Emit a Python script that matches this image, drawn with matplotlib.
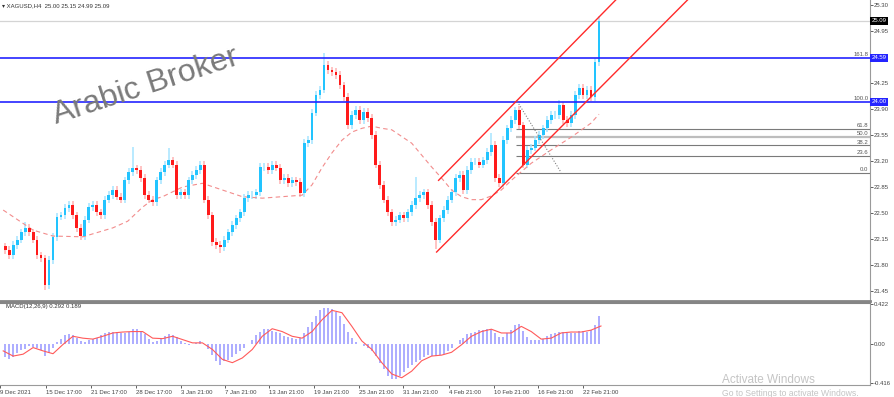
import matplotlib.pyplot as plt
import numpy as np

plt.rcParams['font.family'] = ['Liberation Sans', 'DejaVu Sans']

# XAGUSD H4 closes (one value per ~2 candles)
closes = [
    22.00, 21.93, 22.07, 22.14, 22.24, 22.30, 22.24, 22.14, 21.93, 21.89,
    21.53, 21.87, 22.18, 22.45, 22.47, 22.57, 22.61, 22.47, 22.30, 22.19,
    22.41, 22.58, 22.61, 22.51, 22.47, 22.68, 22.74, 22.81, 22.72, 22.68,
    22.94, 23.05, 23.10, 23.08, 22.97, 22.74, 22.68, 22.65, 22.94, 23.05,
    23.15, 23.21, 23.15, 22.74, 22.78, 22.74, 22.94, 23.01, 23.08, 23.15,
    22.68, 22.47, 22.11, 22.07, 22.04, 22.14, 22.24, 22.34, 22.43, 22.51,
    22.70, 22.74, 22.74, 22.78, 23.12, 23.12, 23.08, 23.15, 23.11, 22.94,
    22.97, 22.90, 22.94, 22.92, 22.77, 23.44, 23.48, 23.85, 24.09, 24.16,
    24.49, 24.42, 24.40, 24.36, 24.22, 24.06, 23.68, 23.82, 23.89, 23.75,
    23.86, 23.78, 23.55, 23.15, 22.88, 22.68, 22.51, 22.38, 22.41, 22.47,
    22.43, 22.51, 22.61, 22.70, 22.74, 22.78, 22.61, 22.38, 22.14, 22.43,
    22.54, 22.68, 22.78, 22.97, 23.01, 22.81, 23.08, 23.19, 23.19, 23.15,
    23.21, 23.32, 23.42, 22.97, 22.90, 23.48, 23.64, 23.75, 23.89, 23.68,
    23.15, 23.35, 23.38, 23.48, 23.55, 23.64, 23.75, 23.82, 23.82, 23.95,
    23.75, 23.71, 23.82, 24.09, 24.18, 24.09, 24.16, 24.06, 24.53, 25.09,
]
first_open = 22.05
# long wicks visible on the chart
spike_highs = {5: 22.38, 32: 23.39, 41: 23.37, 80: 24.65, 103: 22.99,
               122: 23.58, 128: 23.93, 139: 24.02, 149: 25.15}
spike_lows = {10: 21.46, 54: 21.96, 108: 22.02, 124: 22.85, 130: 23.10}

# dashed moving average
ma_bars = [-0.5, 7, 12, 19.5, 27, 30.75, 34.5, 37, 39.5, 44.5, 49.5, 54.5,
           59.5, 64.5, 69.5, 74.5, 77, 79.5, 82, 84.5, 87, 89.5, 92, 94.5,
           97, 102, 107, 109.5, 112, 114.5, 117, 119.5, 122, 124.5, 127,
           132, 137, 142, 147, 149]
ma_vals = [22.54, 22.27, 22.19, 22.18, 22.30, 22.39, 22.58, 22.68, 22.72,
           22.85, 22.90, 22.81, 22.72, 22.70, 22.72, 22.74, 22.88, 23.11,
           23.31, 23.48, 23.59, 23.64, 23.67, 23.64, 23.62, 23.44, 23.12,
           22.97, 22.81, 22.72, 22.68, 22.68, 22.73, 22.81, 22.94, 23.17,
           23.35, 23.52, 23.71, 23.83]

# MACD(12,26,9) histogram, one value per bar
macd_hist = [
    -0.14, -0.16, -0.14, -0.10, -0.07, -0.05, -0.025, -0.03, -0.045, -0.07,
    -0.13, -0.10, -0.04, 0.015, 0.05, 0.09, 0.105, 0.09, 0.06, 0.035,
    0.015, 0.045, 0.055, 0.065, 0.09, 0.11, 0.125, 0.125, 0.125, 0.12,
    0.12, 0.13, 0.155, 0.155, 0.135, 0.10, 0.05, 0.02, 0.025, 0.055,
    0.08, 0.10, 0.09, 0.075, 0.03, 0.005, -0.01, 0.0, 0.01, 0.03,
    0.0, -0.06, -0.12, -0.18, -0.22, -0.18, -0.17, -0.14, -0.11, -0.075,
    -0.04, 0.0, 0.04, 0.09, 0.13, 0.16, 0.16, 0.14, 0.125, 0.11,
    0.085, 0.07, 0.06, 0.055, 0.065, 0.12, 0.175, 0.23, 0.30, 0.36,
    0.385, 0.38, 0.365, 0.335, 0.29, 0.21, 0.13, 0.06, 0.015, -0.005,
    -0.025, -0.04, -0.075, -0.13, -0.20, -0.27, -0.34, -0.375, -0.37, -0.34,
    -0.30, -0.26, -0.22, -0.19, -0.17, -0.14, -0.12, -0.125, -0.13, -0.12,
    -0.11, -0.08, -0.045, -0.005, 0.045, 0.065, 0.10, 0.12, 0.13, 0.145,
    0.15, 0.155, 0.155, 0.12, 0.07, 0.07, 0.11, 0.15, 0.20, 0.21,
    0.14, 0.075, 0.045, 0.045, 0.045, 0.05, 0.08, 0.105, 0.115, 0.125,
    0.13, 0.12, 0.115, 0.12, 0.14, 0.14, 0.13, 0.145, 0.20, 0.292,
]
sig_bars = [-0.5, 2, 4.5, 7, 9.5, 12, 14.5, 17, 19.5, 22, 24.5, 27, 29.5,
            32, 34.5, 37, 39.5, 42, 44.5, 47, 49.5, 52, 54.5, 57, 59.5, 62,
            64.5, 67, 69.5, 72, 74.5, 77, 79.5, 82, 84.5, 87, 89.5, 92,
            94.5, 97, 99.5, 102, 104.5, 107, 109.5, 112, 114.5, 117, 119.5,
            122, 124.5, 127, 129.5, 132, 134.5, 137, 139.5, 142, 144.5, 147,
            149.5]
sig_vals = [-0.075, -0.13, -0.11, -0.04, -0.075, -0.105, -0.007, 0.08, 0.06,
            0.05, 0.08, 0.115, 0.125, 0.13, 0.13, 0.06, 0.055, 0.08, 0.045,
            0.01, 0.01, -0.06, -0.165, -0.2, -0.15, -0.06, 0.08, 0.16, 0.13,
            0.08, 0.06, 0.13, 0.255, 0.355, 0.33, 0.185, 0.03, -0.06, -0.2,
            -0.32, -0.36, -0.29, -0.18, -0.13, -0.12, -0.09, -0.01, 0.08,
            0.13, 0.155, 0.115, 0.115, 0.185, 0.13, 0.05, 0.06, 0.115, 0.125,
            0.125, 0.145, 0.189]

date_labels = ['9 Dec 2021', '15 Dec 17:00', '21 Dec 17:00', '28 Dec 17:00',
               '3 Jan 21:00', '7 Jan 21:00', '13 Jan 21:00', '19 Jan 21:00',
               '25 Jan 21:00', '31 Jan 21:00', '4 Feb 21:00', '10 Feb 21:00',
               '16 Feb 21:00', '22 Feb 21:00']
date_pos = [-1.3, 10.3, 21.6, 32.8, 44.1, 55.2, 66.2, 77.6, 88.8, 99.9,
            111.3, 122.6, 133.8, 145.1]

price_ticks = [25.30, 24.95, 24.25, 23.90, 23.55, 23.20, 22.85, 22.50,
               22.15, 21.80, 21.45]
bid = 25.09
blue_levels = [24.59, 24.00]
fib_names = ['0.0', '23.6', '38.2', '50.0', '61.8']
fib_prices = [23.045, 23.27, 23.41, 23.52, 23.635]
fib_start = 128.25
fib_trend_bars = [128.5, 139.5]
fib_trend_vals = [24.00, 23.045]
chan_up_bars = [108.75, 153.25]
chan_up_vals = [22.94, 25.37]
chan_dn_bars = [108.25, 172.0]
chan_dn_vals = [21.975, 25.41]

fig = plt.figure(figsize=(8.95, 3.97), dpi=100)
ax = fig.add_axes([0, 96 / 397, 870 / 895, 301 / 397])
ax2 = fig.add_axes([0, 12 / 397, 870 / 895, 82 / 397], sharex=ax)

# candles
c = np.array(closes)
o = np.array([first_open] + closes[:-1])
idx = np.arange(len(c))
hi = np.maximum(o, c) + 0.05
lo = np.minimum(o, c) - 0.05
for k, v in spike_highs.items():
    hi[k] = v
for k, v in spike_lows.items():
    lo[k] = v
bull = c >= o
wick_cols = np.where(bull, '#a6e4ff', '#ffb3b3')
body_cols = np.where(bull, '#22c4ff', '#ff1a1a')
ax.vlines(idx, lo, hi, colors=wick_cols, lw=1.1, zorder=2)
ax.bar(idx, c - o, bottom=o, width=0.72, color=body_cols, zorder=3)

ax.plot(ma_bars, ma_vals, color='#f28c8c', lw=0.8, ls=(0, (4, 3)), zorder=2)

# horizontal levels
ax.axhline(bid, color='#d4d4d4', lw=0.9, zorder=1)
for lv in blue_levels:
    ax.axhline(lv, color='#2424ff', lw=1.2, zorder=4)
for name, p in zip(fib_names, fib_prices):
    lw, col = (1.6, '#bdbdbd') if name == '50.0' else (0.8, '#7a7a7a')
    ax.hlines(p, fib_start, 217, color=col, lw=lw, zorder=1)
    ax.text(216.6, p + 0.012, name, fontsize=4.3, color='#555555',
            ha='right', va='bottom')
ax.text(216.6, 24.59 + 0.012, '161.8', fontsize=4.3, color='#555555',
        ha='right', va='bottom')
ax.text(216.6, 24.00 + 0.012, '100.0', fontsize=4.3, color='#555555',
        ha='right', va='bottom')
ax.plot(fib_trend_bars, fib_trend_vals, color='#808080', lw=0.8,
        ls=(0, (1, 1.5)), zorder=4)

# channel
ax.plot(chan_up_bars, chan_up_vals, color='#ff2a2a', lw=1.0, zorder=5)
ax.plot(chan_dn_bars, chan_dn_vals, color='#ff2a2a', lw=1.0, zorder=5)

ax.set_xlim(-0.5, 217)
ax.set_ylim(21.316, 25.367)

# watermark
ax.text(35.25, 24.20, 'Arabic Broker', fontsize=23, color='#7a7a7a',
        rotation=18, ha='center', va='center', rotation_mode='anchor',
        zorder=6)

# right price scale
ax.yaxis.tick_right()
ax.set_yticks(price_ticks)
ax.set_yticklabels(['%.2f' % p for p in price_ticks])
ax.tick_params(axis='y', labelsize=4.3, length=2, width=0.6, pad=1,
               colors='#444444')
ax.tick_params(axis='x', bottom=False, labelbottom=False)
for side in ['top', 'left']:
    ax.spines[side].set_visible(False)
ax.spines['right'].set_color('#9a9a9a')
ax.spines['bottom'].set_color('#858585')
ax.spines['bottom'].set_linewidth(2)

box_tr = ax.get_yaxis_transform()
ax.text(1.002, bid, '%.2f' % bid, transform=box_tr, fontsize=4.3,
        color='white', va='center', ha='left',
        bbox=dict(boxstyle='square,pad=0.25', fc='black', ec='none'))
for lv in blue_levels:
    ax.text(1.002, lv, '%.2f' % lv, transform=box_tr, fontsize=4.3,
            color='white', va='center', ha='left',
            bbox=dict(boxstyle='square,pad=0.25', fc='#2424ff', ec='none'))

# MACD panel
ax2.bar(idx, macd_hist, width=0.5, color='#aeaeff', zorder=2)
ax2.plot(sig_bars, sig_vals, color='#ff5a5a', lw=0.8, zorder=3)
ax2.set_ylim(-0.437, 0.433)
ax2.yaxis.tick_right()
ax2.set_yticks([0.422, 0.0, -0.416])
ax2.set_yticklabels(['0.422', '0.00', '-0.416'])
ax2.tick_params(axis='y', labelsize=4.3, length=2, width=0.6, pad=1,
                colors='#444444')
ax2.set_xticks(date_pos)
ax2.set_xticklabels(date_labels)
ax2.tick_params(axis='x', labelsize=4.3, length=2, width=0.6, pad=1.5,
                colors='#444444')
for lbl in ax2.get_xticklabels():
    lbl.set_ha('left')
ax2.spines['left'].set_visible(False)
ax2.spines['top'].set_color('#858585')
ax2.spines['top'].set_linewidth(1.5)
ax2.spines['right'].set_color('#9a9a9a')
ax2.spines['bottom'].set_color('#9a9a9a')
ax2.text(0.3, 0.40, 'MACD(12,26,9) 0.292 0.189', fontsize=4.3,
         color='#333333', va='center', ha='left')

fig.text(2 / 895, 1 - 6 / 397, '\u25be XAGUSD,H4  25.00 25.15 24.99 25.09',
         fontsize=4.3, color='#333333', va='center', ha='left')
fig.text(722 / 895, 1 - 380 / 397, 'Activate Windows', fontsize=8.5,
         color='#c4c4c4', va='center', ha='left')
fig.text(722 / 895, 1 - 393 / 397, 'Go to Settings to activate Windows.',
         fontsize=6.2, color='#c4c4c4', va='center', ha='left')

plt.savefig('out.png', dpi=100)
